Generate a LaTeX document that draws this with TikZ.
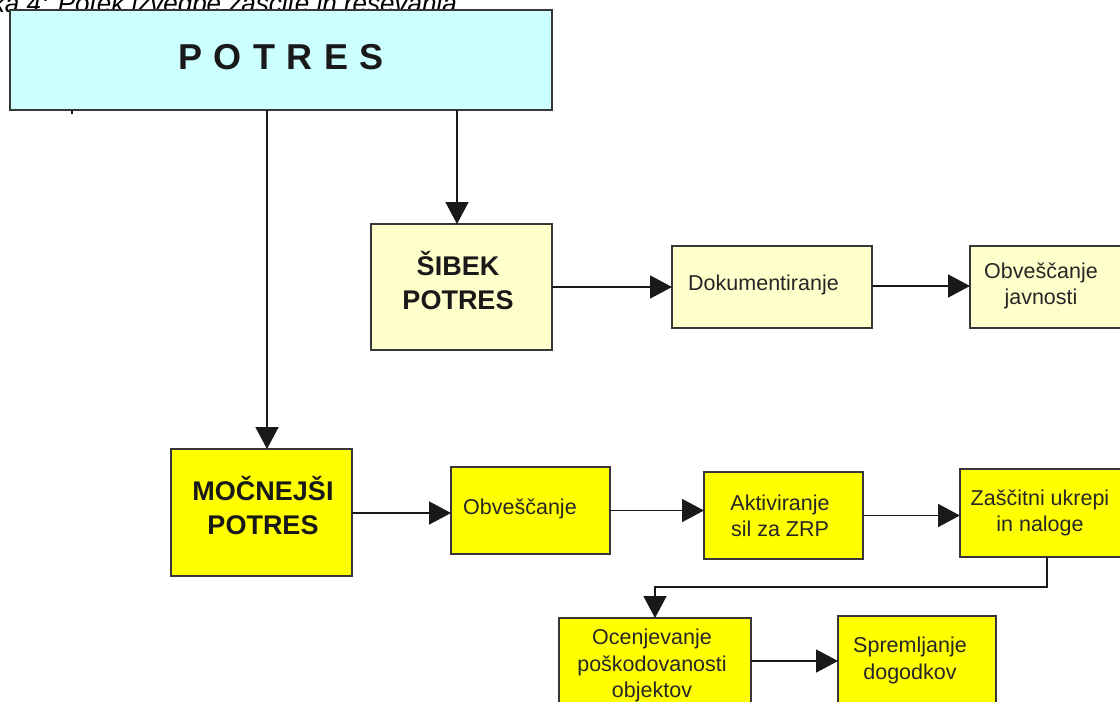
\documentclass[tikz,border=0pt]{standalone}
\usepackage{fontspec}
\setmainfont{Liberation Sans}
\usetikzlibrary{arrows.meta,calc}
\definecolor{cyanfill}{RGB}{204,255,255}
\definecolor{paleyellow}{RGB}{255,255,204}
\definecolor{brightyellow}{RGB}{255,255,0}
\definecolor{edge}{RGB}{55,55,55}
\begin{document}
\begin{tikzpicture}[x=1pt,y=-1pt,
  box/.style={draw=edge, line width=1.6pt, inner sep=0pt, outer sep=0pt, anchor=north west},
  cyanbox/.style={box, fill=cyanfill},
  palebox/.style={box, fill=paleyellow},
  yellowbox/.style={box, fill=brightyellow},
  conn/.style={draw=black!90, line width=1.6pt},
  arr/.style={conn, -{Triangle[length=22pt,width=23pt]}},
  txt/.style={font=\fontsize{21.5}{26.5}\selectfont, align=center, inner sep=0pt, text=black!85},
  btxt/.style={font=\fontsize{27}{34}\selectfont\bfseries, align=center, inner sep=0pt, text=black!90},
]
\useasboundingbox (0,0) rectangle (1120,702);

% caption (cut at the top edge)
\node[font=\fontsize{26}{30}\selectfont\itshape, anchor=base east, inner sep=0pt] (caption) at (457,12) {Slika 4: Potek izvedbe zaščite in reševanja};

% boxes
\node[cyanbox, minimum width=542pt, minimum height=100pt] (potres) at (10,10) {};
\node[font=\fontsize{36}{40}\selectfont\bfseries, inner sep=0pt, text=black!90] (potrestxt) at (281,57)
  {P\hspace{11.5pt}O\hspace{11.5pt}T\hspace{11.5pt}R\hspace{11.5pt}E\hspace{11.5pt}S};

\node[palebox, minimum width=181pt, minimum height=126pt] (sibek) at (371,224) {};
\node[btxt] (sibektxt) at (458,280.5) {ŠIBEK\\POTRES};

\node[palebox, minimum width=200pt, minimum height=82pt] (dok) at (672,246) {};
\node[txt, anchor=west] (doktxt) at (688,285) {Dokumentiranje};

\node[palebox, minimum width=170pt, minimum height=82pt] (obvj) at (970,246) {};
\node[txt] (obvjtxt) at (1041,286) {Obveščanje\\javnosti};

\node[yellowbox, minimum width=181pt, minimum height=127pt] (mocnejsi) at (171,449) {};
\node[btxt] (mocnejsitxt) at (263,506) {MOČNEJŠI\\POTRES};

\node[yellowbox, minimum width=159pt, minimum height=87pt] (obv) at (451,467) {};
\node[txt, anchor=west] (obvtxt) at (463,509) {Obveščanje};

\node[yellowbox, minimum width=159pt, minimum height=87pt] (akt) at (704,472) {};
\node[txt] (akttxt) at (780,516) {Aktiviranje\\sil za ZRP};

\node[yellowbox, minimum width=180pt, minimum height=88pt] (zas) at (960,469) {};
\node[txt] (zastxt) at (1040,513) {Zaščitni ukrepi\\in naloge};

\node[yellowbox, minimum width=192pt, minimum height=100pt] (ocen) at (559,618) {};
\node[txt] (ocentxt) at (652,665.5) {Ocenjevanje\\poškodovanosti\\objektov};

\node[yellowbox, minimum width=158pt, minimum height=100pt] (sprem) at (838,616) {};
\node[txt] (spremtxt) at (910,660.5) {Spremljanje\\dogodkov};

% connectors
\coordinate (tick) at ($(potres.south west)+(62,4)$);
\draw[conn] (potres.south west -| tick) -- (tick);

\draw[arr] ($(potres.south west)+(257,0)$) -- ($(mocnejsi.north west)+(96,0)$);
\draw[arr] ($(potres.south west)+(447,0)$) -- ($(sibek.north west)+(86,0)$);

\draw[arr] (sibek.east) -- (sibek.east -| dok.west);
\draw[arr] ($(dok.north east)+(0,40)$) -- ($(obvj.north west)+(0,40)$);

\draw[arr] ($(mocnejsi.north west)+(181,64)$) -- ($(obv.north west)+(0,46)$);
\draw[arr] (obv.east) -- (obv.east -| akt.west);
\draw[arr] (akt.east) -- (akt.east -| zas.west);
\draw[arr] ($(zas.south west)+(87,0)$) -- ++(0,30) -| ($(ocen.north west)+(96,0)$);
\draw[arr] ($(ocen.north east)+(0,43)$) -- ($(sprem.north west)+(0,45)$);
\end{tikzpicture}
\end{document}
